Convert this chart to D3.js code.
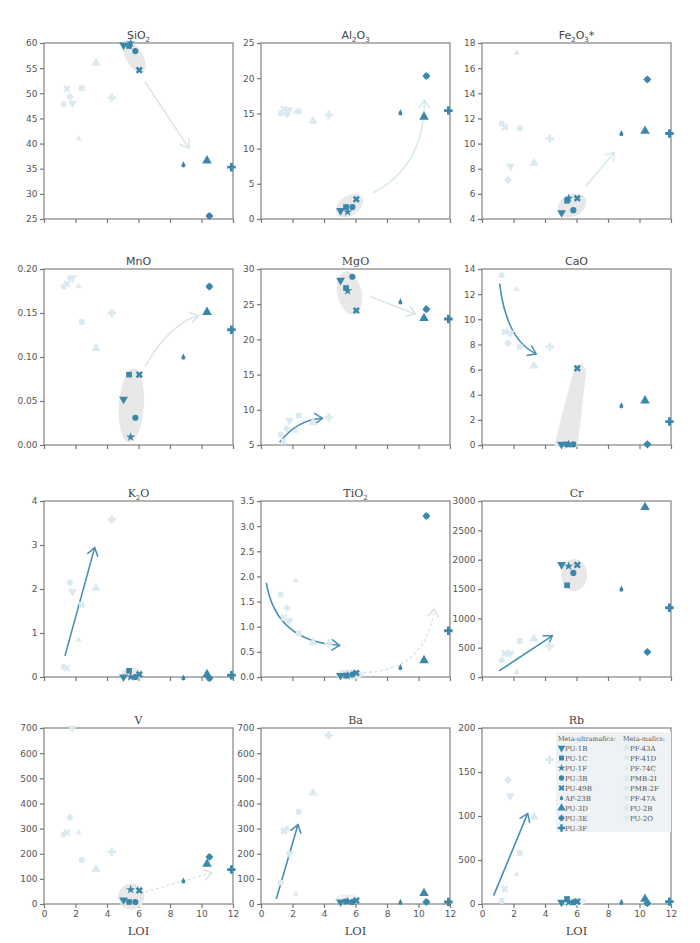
<!DOCTYPE html>
<html><head><meta charset="utf-8">
<script src="https://cdn.jsdelivr.net/npm/d3@7"></script>
<style>body{margin:0;background:#fff;} svg{display:block;}</style>
</head><body><svg id="c" width="700" height="943"></svg>
<script>
// ---------------- DATA ----------------
const loiTicks = [0, 2, 4, 6, 8, 10, 12];
const ultraNames = ["PU-1B","PU-1C","PU-1F","PU-3B","PU-49B","AP-23B","PU-3D","PU-3E","PU-3F"];
const ultraLOI   = [5.05, 5.4, 5.5, 5.8, 6.05, 8.85, 10.35, 10.5, 11.9];
const maficNames = ["PF-43A","PF-41D","PF-74C","PMB-2I","PMB-2F","PF-47A","PU-2B","PU-2O"];
const maficLOI   = [3.3, 2.4, 2.2, 1.45, 1.25, 1.65, 4.3, 1.8];

const SiO2_ultra  = [59.6, 59.4, 60.0, 58.4, 54.6, 35.8, 36.6, 25.6, 35.3];
const SiO2_mafic  = [56.0, 51.0, 41.0, 50.9, 47.8, 49.3, 49.1, 48.0];
const SiO2_ticks  = [25, 30, 35, 40, 45, 50, 55, 60];
const Al2O3_ultra = [1.2, 1.7, 1.0, 1.7, 2.8, 15.1, 14.5, 20.3, 15.4];
const Al2O3_mafic = [13.9, 15.3, 15.2, 15.6, 15.0, 14.9, 14.8, 15.5];
const Al2O3_ticks = [0, 5, 10, 15, 20, 25];
const Fe2O3_ultra = [4.5, 5.45, 5.65, 4.7, 5.65, 10.8, 11.0, 15.1, 10.8];
const Fe2O3_mafic = [8.45, 11.2, 17.2, 11.3, 11.6, 7.1, 10.4, 8.2];
const Fe2O3_ticks = [4, 6, 8, 10, 12, 14, 16, 18];
const MnO_ultra   = [0.052, 0.080, 0.009, 0.031, 0.080, 0.100, 0.151, 0.180, 0.131];
const MnO_mafic   = [0.110, 0.140, 0.180, 0.183, 0.180, 0.190, 0.150, 0.190];
const MnO_ticks   = [0, 0.05, 0.10, 0.15, 0.20];
const MgO_ultra   = [28.4, 27.3, 26.9, 28.9, 24.1, 25.35, 23.0, 24.3, 22.9];
const MgO_mafic   = [8.2, 9.2, 7.0, 5.5, 6.5, 7.3, 8.9, 8.5];
const MgO_ticks   = [5, 10, 15, 20, 25, 30];
const CaO_ultra   = [0.05, 0.05, 0.05, 0.05, 6.1, 3.13, 3.53, 0.05, 1.86];
const CaO_mafic   = [6.3, 7.8, 12.4, 9.0, 13.5, 8.1, 7.8, 8.9];
const CaO_ticks   = [0, 2, 4, 6, 8, 10, 12, 14];
const K2O_ultra   = [0.0, 0.14, 0.0, 0.0, 0.06, -0.02, 0.06, -0.03, 0.04];
const K2O_mafic   = [2.02, 1.64, 0.84, 0.20, 0.23, 2.15, 3.58, 1.94];
const K2O_ticks   = [0, 1, 2, 3, 4];
const TiO2_ultra  = [0.03, 0.03, 0.03, 0.05, 0.08, 0.19, 0.33, 3.2, 0.92];
const TiO2_mafic  = [0.69, 0.87, 1.92, 1.18, 1.64, 1.37, 0.67, 1.12];
const TiO2_ticks  = [0, 0.5, 1.0, 1.5, 2.0, 2.5, 3.0, 3.5];
const Cr_ultra    = [1916, 1563, 1890, 1774, 1910, 1500, 2892, 427, 1180];
const Cr_mafic    = [650, 616, 80, 400, 285, 410, 525, 400];
const Cr_ticks    = [0, 500, 1000, 1500, 2000, 2500, 3000];
const V_ultra     = [16, 8, 57, 8, 54, 92, 159, 187, 137];
const V_mafic     = [138, 175, 284, 284, 276, 344, 208, 699];
const V_ticks     = [0, 100, 200, 300, 400, 500, 600, 700];
const Ba_ultra    = [8, 10, 10, 8, 14, 7, 43, 8, 8];
const Ba_mafic    = [442, 367, 40, 291, 85, 298, 671, 200];
const Ba_ticks    = [0, 100, 200, 300, 400, 500, 600, 700];
const Rb_ultra    = [2, 5.7, 2, 2, 2.7, 2, 5.7, 0.8, 2.7];
const Rb_mafic    = [99, 58, 34, 17, 3.4, 141, 164, 123];
const Rb_ticks    = [0, 50, 100, 150, 200];
const Rb_tickLabels = ["0", "500", "100", "150", "200"];

// ---------------- STYLE / LAYOUT ----------------
const panels = [
  {title:"SiO_2",    ultra:SiO2_ultra,  mafic:SiO2_mafic,  ticks:SiO2_ticks,  serif:false},
  {title:"Al_2O_3",  ultra:Al2O3_ultra, mafic:Al2O3_mafic, ticks:Al2O3_ticks, serif:false},
  {title:"Fe_2O_3*", ultra:Fe2O3_ultra, mafic:Fe2O3_mafic, ticks:Fe2O3_ticks, serif:false},
  {title:"MnO",      ultra:MnO_ultra,   mafic:MnO_mafic,   ticks:MnO_ticks,   serif:false, fmt:".2f"},
  {title:"MgO",      ultra:MgO_ultra,   mafic:MgO_mafic,   ticks:MgO_ticks,   serif:true},
  {title:"CaO",      ultra:CaO_ultra,   mafic:CaO_mafic,   ticks:CaO_ticks,   serif:false},
  {title:"K_2O",     ultra:K2O_ultra,   mafic:K2O_mafic,   ticks:K2O_ticks,   serif:true},
  {title:"TiO_2",    ultra:TiO2_ultra,  mafic:TiO2_mafic,  ticks:TiO2_ticks,  serif:true, fmt:".1f"},
  {title:"Cr",       ultra:Cr_ultra,    mafic:Cr_mafic,    ticks:Cr_ticks,    serif:true},
  {title:"V",        ultra:V_ultra,     mafic:V_mafic,     ticks:V_ticks,     serif:true},
  {title:"Ba",       ultra:Ba_ultra,    mafic:Ba_mafic,    ticks:Ba_ticks,    serif:true},
  {title:"Rb",       ultra:Rb_ultra,    mafic:Rb_mafic,    ticks:Rb_ticks,    serif:true, labels:Rb_tickLabels}
];

const colX = [44, 261, 482], rowY = [43, 269, 501, 728];
const W = 189, H = 176;
const DARK = "#3b87a9", LIGHT = "#dbeaf0", BLOB = "#e8e8e8";
const ARROW_DARK = "#4a8fb2", ARROW_LIGHT = "#d8e3e6";
const SANS = "'DejaVu Sans', sans-serif", SERIF = "'DejaVu Serif', serif";

// custom symbols
const symDown = {draw(ctx, size){const s=Math.sqrt(size*4/Math.sqrt(3)), h=s*Math.sqrt(3)/2;
  ctx.moveTo(-s/2,-h/3); ctx.lineTo(s/2,-h/3); ctx.lineTo(0,2*h/3); ctx.closePath();}};
const symSpade = {draw(ctx, size){const r=Math.sqrt(size/Math.PI)*0.8;
  ctx.moveTo(r,0.35*r); ctx.arc(0,0.35*r,r,0,2*Math.PI);
  ctx.moveTo(-0.85*r,-0.05*r); ctx.lineTo(0,-1.7*r); ctx.lineTo(0.85*r,-0.05*r); ctx.closePath();}};
const symDiaCirc = {draw(ctx, size){const r=Math.sqrt(size/Math.PI);
  ctx.moveTo(r,0); ctx.arc(0,0,r,0,2*Math.PI);
  ctx.moveTo(0,-1.35*r); ctx.lineTo(1.35*r,0); ctx.lineTo(0,1.35*r); ctx.lineTo(-1.35*r,0); ctx.closePath();}};
const symX = {draw(ctx,size){ d3.symbolCross.draw(ctx,size); }};

const ultraSym  = [symDown, d3.symbolSquare, d3.symbolStar, d3.symbolCircle, symX, symSpade, d3.symbolTriangle, symDiaCirc, d3.symbolCross];
const ultraSize = [34, 32, 26, 30, 32, 20, 40, 28, 40];
const ultraRot  = [0,0,0,0,45,0,0,0,0];
const maficSym  = [d3.symbolTriangle, d3.symbolSquare, d3.symbolTriangle, symX, d3.symbolCircle, symDiaCirc, d3.symbolCross, symDown];
const maficSize = [38, 32, 16, 34, 28, 26, 40, 34];
const maficRot  = [0,0,0,45,0,0,0,0];

// annotation blobs (centre in data units, radii in px)
const blobs = {
  0:[{c:[5.72,57.3], rx:18, ry:8.5, rot:60}],
  1:[{c:[5.62,1.9], rx:15, ry:10, rot:-35}],
  2:[{c:[5.72,5.1], rx:15, ry:11, rot:-25}],
  3:[{c:[5.55,0.045], rx:12.5, ry:37, rot:4}],
  4:[{c:[5.62,26.6], rx:12, ry:22, rot:-12}],
  6:[{c:[5.6,0.07], rx:11, ry:6, rot:0}],
  7:[{c:[5.62,0.05], rx:14, ry:5, rot:0}],
  8:[{c:[5.85,1740], rx:13, ry:16, rot:0}],
  9:[{c:[5.55,30], rx:13, ry:13, rot:0}],
  10:[{c:[5.5,18], rx:13, ry:5, rot:0, light:true}],
  11:[{c:[5.9,3], rx:12, ry:4, rot:0, light:true}]
};
const caoWedge = [[4.72,0],[5.95,0],[6.5,5.9],[6.3,6.35],[6.0,6.2]];

// arrows: points in data units (2 = straight, 3 = quadratic)
const arrows = {
  0:[{p:[[6.4,52.3],[9.2,39.1]], dark:false}],
  1:[{p:[[7.1,3.7],[10.37,7.4],[10.37,16.9]], dark:false, col:"#d2e9ec"}],
  2:[{p:[[6.6,6.6],[8.4,9.3]], dark:false, col:"#d2e9ec"}],
  3:[{p:[[6.4,0.089],[8.0,0.138],[9.8,0.147]], dark:false}],
  4:[{p:[[6.9,26.1],[9.8,23.6]], dark:false},{p:[[1.18,5.38],[2.3,8.6],[3.9,8.8]], dark:true}],
  5:[{p:[[1.12,12.83],[1.54,8.37],[3.44,7.25]], dark:true}],
  6:[{p:[[1.33,0.48],[3.22,2.94]], dark:true}],
  7:[{p:[[0.34,1.87],[0.95,0.7],[4.99,0.63]], dark:true},{p:[[6.5,0.09],[10.5,0.12],[10.99,1.35]], dark:false, dash:true}],
  8:[{p:[[1.08,103],[4.46,702]], dark:true}],
  9:[{p:[[6.43,48],[10.65,125]], dark:false, dash:true}],
  10:[{p:[[0.97,20],[2.35,316]], dark:true}],
  11:[{p:[[0.74,9.5],[2.9,103]], dark:true}]
};

// ---------------- DRAW ----------------
const svg = d3.select("#c");
const defs = svg.append("defs");
function mkMarker(id, col){
  defs.append("marker").attr("id",id).attr("viewBox","-10 -7 12 14").attr("refX",0).attr("refY",0)
    .attr("markerWidth",12).attr("markerHeight",14).attr("markerUnits","userSpaceOnUse").attr("orient","auto")
    .append("path").attr("d","M-8,-5.5L0,0L-8,5.5").attr("fill","none").attr("stroke",col).attr("stroke-width",1.5);
}
mkMarker("hd", ARROW_DARK); mkMarker("hl", ARROW_LIGHT); mkMarker("hc", "#d2e9ec");

function addTitle(g, t, x, y, serif){
  const txt = g.append("text").attr("x",x).attr("y",y).attr("text-anchor","middle")
    .attr("font-family", serif?SERIF:SANS).attr("font-size",11).attr("fill","#444");
  const re = /_(.)|([^_])/g; let m, buf="";
  const parts=[];
  while((m=re.exec(t))){ if(m[1]){ if(buf){parts.push([buf,false]);buf="";} parts.push([m[1],true]); } else buf+=m[2]; }
  if(buf) parts.push([buf,false]);
  let sub=false;
  parts.forEach(([s,isSub])=>{
    const ts = txt.append("tspan").text(s);
    if(isSub){ ts.attr("font-size",7).attr("dy",sub?0:2.5); sub=true; }
    else { if(sub){ ts.attr("dy",-2.5); sub=false; } }
  });
}

panels.forEach((P, i) => {
  const col = i % 3, row = Math.floor(i / 3);
  const x0 = colX[col], y0 = rowY[row];
  const g = svg.append("g").attr("transform", `translate(${x0},${y0})`);
  const x = d3.scaleLinear().domain([0, 12]).range([0, W]);
  const y = d3.scaleLinear().domain([d3.min(P.ticks), d3.max(P.ticks)]).range([H, 0]);

  g.append("rect").attr("width",W).attr("height",H).attr("fill","#fff").attr("stroke","#8c8c8c").attr("stroke-width",1.3);

  const ya = d3.axisLeft(y).tickValues(P.ticks).tickSize(4).tickPadding(2.5)
    .tickFormat(P.labels ? ((d,k)=>P.labels[k]) : (P.fmt ? d3.format(P.fmt) : d3.format("d")));
  const yg = g.append("g").call(ya);
  const xa = d3.axisBottom(x).tickValues(loiTicks).tickSize(4).tickPadding(3)
    .tickFormat(row === 3 ? d3.format("d") : "");
  const xg = g.append("g").attr("transform",`translate(0,${H})`).call(xa);
  [yg, xg].forEach(a => {
    a.select(".domain").remove();
    a.selectAll("line").attr("stroke","#777").attr("stroke-width",1.2);
    a.selectAll("text").attr("font-family",SANS).attr("font-size",9).attr("fill","#555");
  });

  addTitle(g, P.title, W/2, -4, P.serif);
  if(row === 3){
    g.append("text").attr("x",W/2).attr("y",H+31).attr("text-anchor","middle")
      .attr("font-family",SERIF).attr("font-size",11.5).attr("fill","#444").text("LOI");
  }

  (blobs[i]||[]).forEach(b => {
    g.append("ellipse").attr("cx",0).attr("cy",0).attr("rx",b.rx).attr("ry",b.ry)
      .attr("transform",`translate(${x(b.c[0])},${y(b.c[1])}) rotate(${b.rot})`)
      .attr("fill", b.light ? "#eef1f2" : BLOB);
  });
  if(i === 5){
    g.append("path").attr("d", d3.line().x(d=>x(d[0])).y(d=>y(d[1])).curve(d3.curveLinearClosed)(caoWedge))
      .attr("fill",BLOB).attr("stroke",BLOB).attr("stroke-width",4).attr("stroke-linejoin","round");
  }

  (arrows[i]||[]).forEach(a => {
    const pts = a.p.map(d => [x(d[0]), y(d[1])]);
    const path = d3.path();
    path.moveTo(pts[0][0], pts[0][1]);
    if(pts.length === 2) path.lineTo(pts[1][0], pts[1][1]);
    else path.quadraticCurveTo(pts[1][0], pts[1][1], pts[2][0], pts[2][1]);
    const c = a.dark ? ARROW_DARK : (a.col || ARROW_LIGHT);
    g.append("path").attr("d", path.toString()).attr("fill","none").attr("stroke", c)
      .attr("stroke-width", a.dark ? 1.6 : 1.4)
      .attr("stroke-dasharray", a.dash ? "3,2.5" : null)
      .attr("marker-end", a.dark ? "url(#hd)" : (a.col ? "url(#hc)" : "url(#hl)"));
  });

  P.mafic.forEach((v, k) => {
    g.append("path").attr("d", d3.symbol().type(maficSym[k]).size(maficSize[k])())
      .attr("transform", `translate(${x(maficLOI[k])},${y(v)}) rotate(${maficRot[k]})`)
      .attr("fill", LIGHT);
  });
  P.ultra.forEach((v, k) => {
    g.append("path").attr("d", d3.symbol().type(ultraSym[k]).size(ultraSize[k])())
      .attr("transform", `translate(${x(ultraLOI[k])},${y(v)}) rotate(${ultraRot[k]})`)
      .attr("fill", DARK);
  });

  if(i === 11){
    const lg = g.append("g").attr("transform", `translate(74,4)`);
    lg.append("rect").attr("width",W-74).attr("height",100).attr("fill","#eef2f4");
    const fs = 7;
    lg.append("text").attr("x",2).attr("y",9).attr("font-family",SERIF).attr("font-size",6.4).attr("fill","#555").text("Meta-ultramafics:");
    lg.append("text").attr("x",67).attr("y",9).attr("font-family",SERIF).attr("font-size",6.4).attr("fill","#555").text("Meta-mafics:");
    ultraNames.forEach((n,k) => {
      const yy = 16 + k*10;
      lg.append("path").attr("d", d3.symbol().type(ultraSym[k]).size(ultraSize[k]*0.75)())
        .attr("transform", `translate(5.5,${yy}) rotate(${ultraRot[k]})`).attr("fill", DARK);
      lg.append("text").attr("x",9).attr("y",yy+2.5).attr("font-family",SERIF).attr("font-size",fs).attr("fill","#555").text(n);
    });
    maficNames.forEach((n,k) => {
      const yy = 16 + k*10;
      lg.append("path").attr("d", d3.symbol().type(maficSym[k]).size(maficSize[k]*0.75)())
        .attr("transform", `translate(70.5,${yy}) rotate(${maficRot[k]})`).attr("fill", LIGHT);
      lg.append("text").attr("x",74).attr("y",yy+2.5).attr("font-family",SERIF).attr("font-size",fs).attr("fill","#555").text(n);
    });
  }
});
</script></body></html>
